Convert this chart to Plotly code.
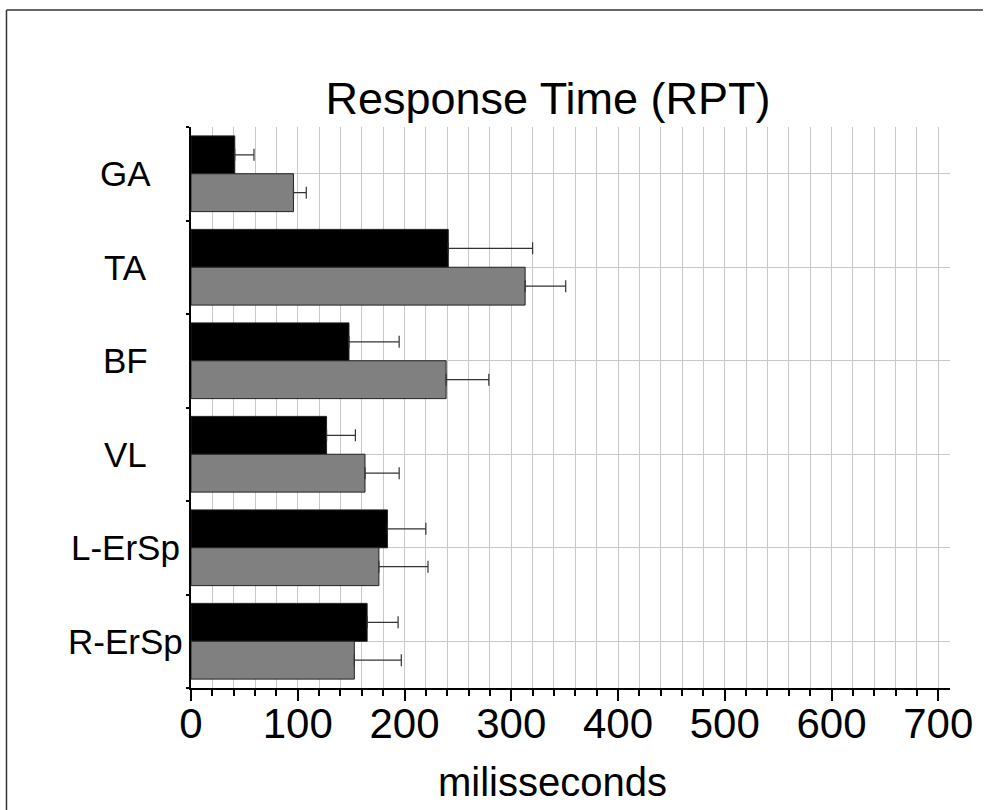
import plotly.graph_objects as go

categories = ["GA", "TA", "BF", "VL", "L-ErSp", "R-ErSp"]
series_black = [41, 241, 148, 127, 184, 165]
err_black = [18, 79, 47, 27, 36, 29]
series_gray = [96, 313, 239, 163, 176, 153]
err_gray = [12, 38, 40, 32, 46, 44]
x_ticks = [0, 100, 200, 300, 400, 500, 600, 700]

W, H = 985, 810
L, R, T, B = 191, 33, 127, 122
pw, ph = W - L - R, H - T - B

def px_to_paper_x(px):
    return (px - L) / pw

def px_to_paper_y(py):
    return (H - B - py) / ph

pos = list(range(len(categories)))
font = "Arial, 'Liberation Sans', sans-serif"

fig = go.Figure()
fig.add_trace(go.Bar(
    y=pos, x=series_black, orientation="h", name="black",
    marker=dict(color="#000000", line=dict(color="#222222", width=1)),
    error_x=dict(type="data", array=err_black, arrayminus=[0]*len(err_black),
                 symmetric=False, color="#333333", thickness=1.2, width=6),
))
fig.add_trace(go.Bar(
    y=pos, x=series_gray, orientation="h", name="gray",
    marker=dict(color="#808080", line=dict(color="#222222", width=1)),
    error_x=dict(type="data", array=err_gray, arrayminus=[0]*len(err_gray),
                 symmetric=False, color="#333333", thickness=1.2, width=6),
))

fig.update_layout(
    width=W, height=H,
    margin=dict(l=L, r=R, t=T, b=B, pad=0),
    paper_bgcolor="white", plot_bgcolor="white",
    barmode="group", bargap=0.19, bargroupgap=0,
    showlegend=False,
    font=dict(family=font, color="black"),
    title=dict(text="Response Time (RPT)", x=548/W, xanchor="center",
               y=1 - 98/H, yanchor="middle", xref="container", yref="container",
               font=dict(size=45, family=font, color="black")),
)

fig.update_xaxes(
    range=[0, 711], tickvals=x_ticks, ticktext=[str(v) for v in x_ticks],
    showline=True, linecolor="black", linewidth=2,
    ticks="outside", ticklen=11, tickwidth=2, tickcolor="black",
    tickfont=dict(size=42, family=font, color="black"),
    ticklabelstandoff=-13,
    showgrid=True, gridcolor="#c8c8c8", gridwidth=1,
    minor=dict(dtick=20, tick0=0, ticks="outside", ticklen=6, tickwidth=1.5,
               tickcolor="black", showgrid=True, gridcolor="#c8c8c8", gridwidth=1),
    zeroline=False,
)

fig.update_yaxes(
    range=[len(categories) - 0.5, -0.5],
    tick0=0.5, dtick=1, tickmode="linear",
    showticklabels=False,
    showline=True, linecolor="black", linewidth=2,
    ticks="outside", ticklen=3, tickwidth=1.5, tickcolor="black",
    showgrid=False,
    minor=dict(tick0=0, dtick=1, ticks="", showgrid=True, gridcolor="#c8c8c8", gridwidth=1),
    zeroline=False,
)

for i, c in enumerate(categories):
    fig.add_annotation(text=c, x=px_to_paper_x(125), xref="paper", y=i, yref="y",
                       xanchor="center", yanchor="middle", showarrow=False,
                       font=dict(size=35, family=font, color="black"))

fig.add_annotation(text="milisseconds", x=px_to_paper_x(553), xref="paper",
                   y=px_to_paper_y(782), yref="paper", xanchor="center", yanchor="middle",
                   showarrow=False, font=dict(size=40, family=font, color="black"))

# frame: left and top edges only
fig.add_shape(type="line", xref="paper", yref="paper",
              x0=px_to_paper_x(6), x1=px_to_paper_x(6),
              y0=px_to_paper_y(H), y1=px_to_paper_y(10),
              line=dict(color="#333333", width=1.5), layer="below")
fig.add_shape(type="line", xref="paper", yref="paper",
              x0=px_to_paper_x(6), x1=px_to_paper_x(W),
              y0=px_to_paper_y(10), y1=px_to_paper_y(10),
              line=dict(color="#333333", width=1.5), layer="below")

fig.write_html("out.html",
               config={"displayModeBar": False},
               post_script="document.body.style.margin='0';document.body.style.overflow='hidden';")
